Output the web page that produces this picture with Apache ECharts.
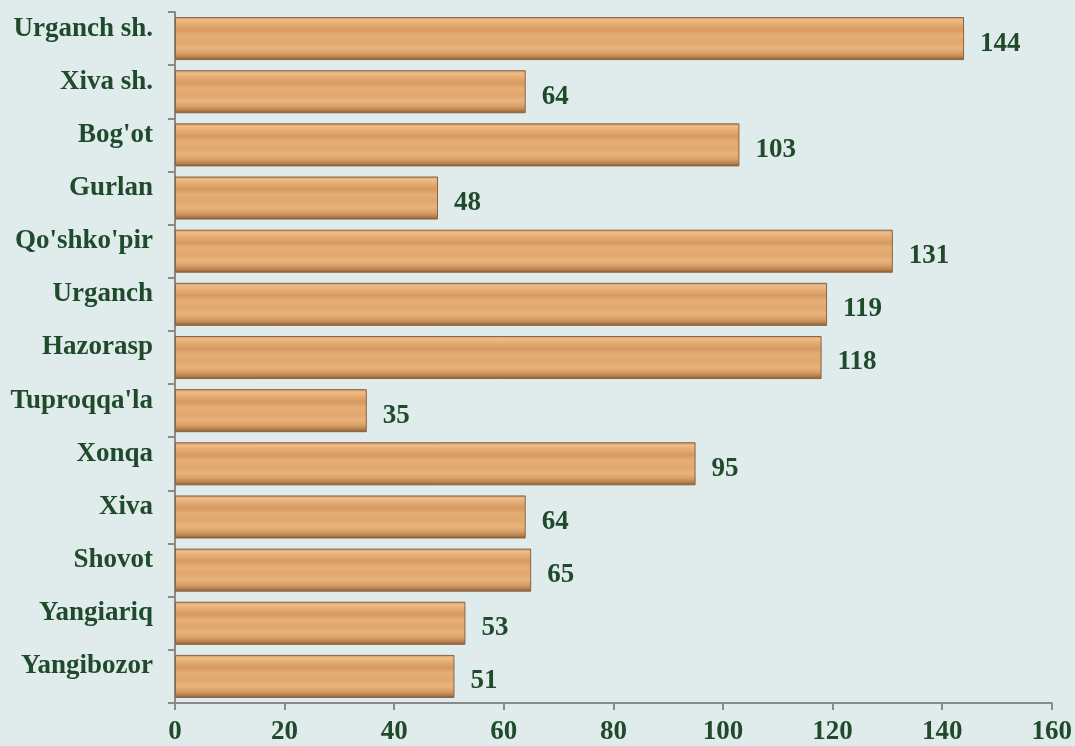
<!DOCTYPE html>
<html><head><meta charset="utf-8">
<script src="https://cdn.jsdelivr.net/npm/echarts@6/dist/echarts.min.js"></script>
<style>html,body{margin:0;padding:0;background:#e0ecec;}#c{width:1075px;height:746px;}</style>
</head><body><div id="c"></div>
<script>
const categories = ["Urganch sh.","Xiva sh.","Bog'ot","Gurlan","Qo'shko'pir","Urganch","Hazorasp","Tuproqqa'la","Xonqa","Xiva","Shovot","Yangiariq","Yangibozor"];
const values = [144,64,103,48,131,119,118,35,95,64,65,53,51];
const xTicks = [0,20,40,60,80,100,120,140,160];

const green = '#1f4a2c';
const font = '"Liberation Serif","Times New Roman",serif';
const chart = echarts.init(document.getElementById('c'));
chart.setOption({
  backgroundColor: '#e0ecec',
  animation: false,
  grid: {left: 175, right: 22, top: 12, bottom: 42, containLabel: false},
  xAxis: {
    type: 'value', min: xTicks[0], max: xTicks[xTicks.length-1], interval: 20,
    axisLine: {show: true, lineStyle: {color: '#8a8a8a', width: 2}},
    axisTick: {show: true, length: 7, lineStyle: {color: '#8a8a8a', width: 2}},
    splitLine: {show: false},
    axisLabel: {color: green, fontFamily: font, fontWeight: 'bold', fontSize: 27, margin: 16}
  },
  yAxis: {
    type: 'category', data: categories.slice().reverse(), inverse: false,
    axisLine: {show: true, lineStyle: {color: '#8a8a8a', width: 2}},
    axisTick: {show: true, length: 7, lineStyle: {color: '#8a8a8a', width: 2}},
    axisLabel: {color: green, fontFamily: font, fontWeight: 'bold', fontSize: 27, margin: 22, verticalAlign: 'bottom', lineHeight: 20}
  },
  series: [{
    type: 'bar',
    data: values.slice().reverse(),
    barCategoryGap: '19%',
    itemStyle: {
      borderColor: '#8a6444', borderWidth: 1,
      color: new echarts.graphic.LinearGradient(0,0,0,1,[
        {offset:0, color:'#c99462'},
        {offset:0.07, color:'#f0bc88'},
        {offset:0.18, color:'#e3a96f'},
        {offset:0.3, color:'#d49a62'},
        {offset:0.42, color:'#e6ad74'},
        {offset:0.58, color:'#e0a76e'},
        {offset:0.72, color:'#e9b37c'},
        {offset:0.84, color:'#d89f66'},
        {offset:0.93, color:'#b8804c'},
        {offset:1, color:'#7f5934'}
      ])
    },
    label: {show: true, position: 'right', distance: 16, offset: [0, 5],
      color: green, fontFamily: font, fontWeight: 'bold', fontSize: 27}
  }]
});
</script></body></html>
